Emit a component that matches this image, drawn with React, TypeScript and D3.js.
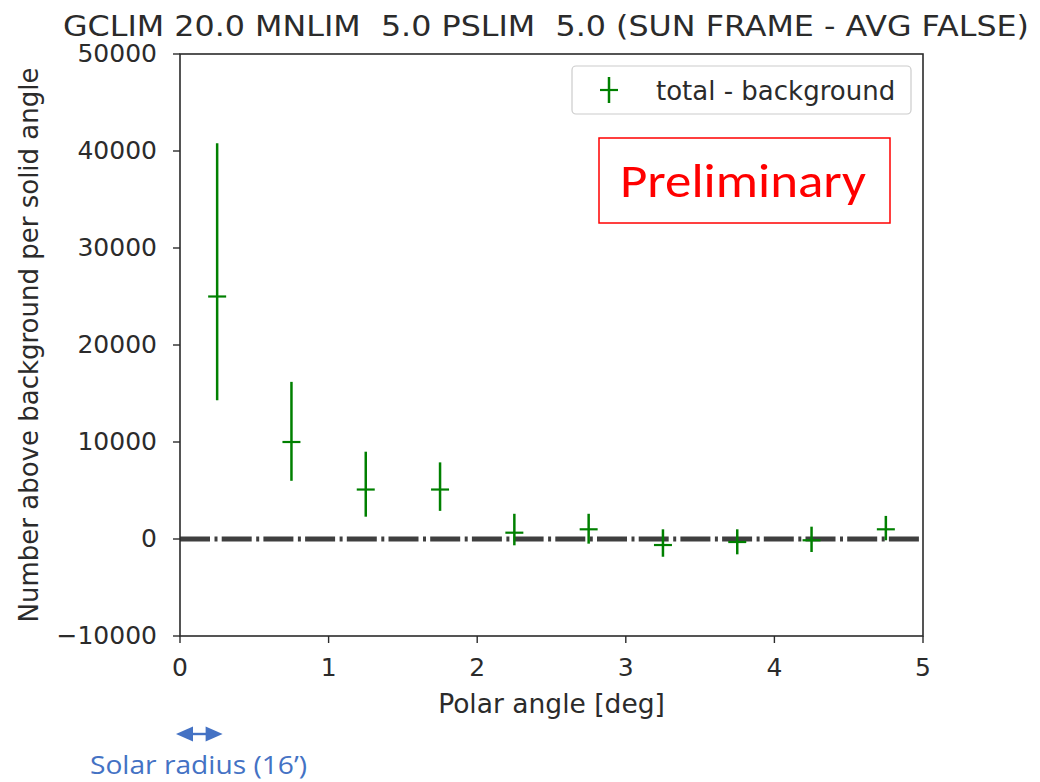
import React from "react";
import * as d3 from "d3";

const xValues = [0.25, 0.75, 1.25, 1.75, 2.25, 2.75, 3.25, 3.75, 4.25, 4.75];
const yValues = [25000, 10000, 5100, 5100, 650, 1000, -620, -310, -130, 1000];
const yLow = [14300, 6000, 2300, 2900, -650, -480, -1830, -1580, -1340, -130];
const yHigh = [40800, 16200, 9000, 7900, 2600, 2600, 1000, 1000, 1270, 2380];
const xTicks = [0, 1, 2, 3, 4, 5];
const yTicks = [-10000, 0, 10000, 20000, 30000, 40000, 50000];
const titleText = "GCLIM 20.0 MNLIM  5.0 PSLIM  5.0 (SUN FRAME - AVG FALSE)";
const xLabel = "Polar angle [deg]";
const yLabel = "Number above background per solid angle";
const legendLabel = "total - background";
const solarRadiusDeg = 16 / 60;

const W = 1040;
const H = 782;
const L = 180, R = 923, T = 54, B = 636;
const GREEN = "#008000";
const DARK = "#2b2b2b";
const FONT = "'DejaVu Sans', sans-serif";

export default function App() {
  const x = d3.scaleLinear().domain([0, 5]).range([L, R]);
  const y = d3.scaleLinear().domain([-10000, 50000]).range([B, T]);
  const fmt = (v: number) => (v < 0 ? "\u2212" + Math.abs(v) : String(v));
  const ax0 = x(0) - 4;
  const ax1 = x(solarRadiusDeg) + 3;
  const ay = 734;
  return (
    <svg width={W} height={H} style={{ position: "absolute", left: 0, top: 0 }}>
      <rect x={0} y={0} width={W} height={H} fill="#fff" />
      <text x={63} y={36} fontFamily={FONT} fontSize={27.5} fill={DARK} textLength={966} lengthAdjust="spacingAndGlyphs" style={{ whiteSpace: "pre" }}>
        {titleText}
      </text>
      {/* zero line */}
      <line x1={L} x2={R} y1={y(0)} y2={y(0)} stroke="#3f3f3f" strokeWidth={5} strokeDasharray="30,4.5,3,4.2" />
      {/* error bars */}
      {xValues.map((xv, i) => (
        <g key={i}>
          <line x1={x(xv)} x2={x(xv)} y1={y(yLow[i])} y2={y(yHigh[i])} stroke={GREEN} strokeWidth={2.5} />
          <line x1={x(xv) - 9} x2={x(xv) + 9} y1={y(yValues[i])} y2={y(yValues[i])} stroke={GREEN} strokeWidth={2.2} />
        </g>
      ))}
      {/* frame */}
      <rect x={L} y={T} width={R - L} height={B - T} fill="none" stroke={DARK} strokeWidth={1.6} />
      {/* y ticks */}
      {yTicks.map((t) => (
        <g key={"y" + t}>
          <line x1={L - 7} x2={L} y1={y(t)} y2={y(t)} stroke={DARK} strokeWidth={1.4} />
          <text x={L - 23} y={y(t)} dy="0.33em" textAnchor="end" fontFamily={FONT} fontSize={25} fill={DARK}>
            {fmt(t)}
          </text>
        </g>
      ))}
      {/* x ticks */}
      {xTicks.map((t) => (
        <g key={"x" + t}>
          <line x1={x(t)} x2={x(t)} y1={B} y2={B + 7} stroke={DARK} strokeWidth={1.4} />
          <text x={x(t)} y={676} textAnchor="middle" fontFamily={FONT} fontSize={25} fill={DARK}>
            {t}
          </text>
        </g>
      ))}
      <text x={(L + R) / 2} y={713} textAnchor="middle" fontFamily={FONT} fontSize={26.5} fill={DARK}>
        {xLabel}
      </text>
      <text transform={`translate(38, ${(T + B) / 2}) rotate(-90)`} textAnchor="middle" fontFamily={FONT} fontSize={26} fill={DARK}>
        {yLabel}
      </text>
      {/* legend */}
      <rect x={572} y={66} width={339} height={48} rx={4} fill="#fff" stroke="#cccccc" strokeWidth={1.2} />
      <line x1={609} x2={609} y1={77} y2={103} stroke={GREEN} strokeWidth={2.5} />
      <line x1={600} x2={618} y1={90} y2={90} stroke={GREEN} strokeWidth={2.2} />
      <text x={656} y={100} fontFamily={FONT} fontSize={26} fill={DARK}>
        {legendLabel}
      </text>
      {/* preliminary */}
      <rect x={599} y={138} width={291} height={85} fill="none" stroke="#ff0000" strokeWidth={1.5} />
      <text x={620} y={197} fontFamily="Carlito, Lato, 'Open Sans', sans-serif" fontSize={47} fill="#ff0000" textLength={246} lengthAdjust="spacingAndGlyphs">
        Preliminary
      </text>
      {/* solar radius annotation */}
      <line x1={ax0 + 14} x2={ax1 - 14} y1={ay} y2={ay} stroke="#4472C4" strokeWidth={2.4} />
      <path d={`M${ax0},${ay} L${ax0 + 17},${ay - 7.5} L${ax0 + 17},${ay + 7.5} Z`} fill="#4472C4" />
      <path d={`M${ax1},${ay} L${ax1 - 17},${ay - 7.5} L${ax1 - 17},${ay + 7.5} Z`} fill="#4472C4" />
      <text x={90} y={774} fontFamily="'Open Sans', sans-serif" fontSize={25} fill="#4472C4" textLength={217} lengthAdjust="spacingAndGlyphs">
        Solar radius (16’)
      </text>
    </svg>
  );
}
